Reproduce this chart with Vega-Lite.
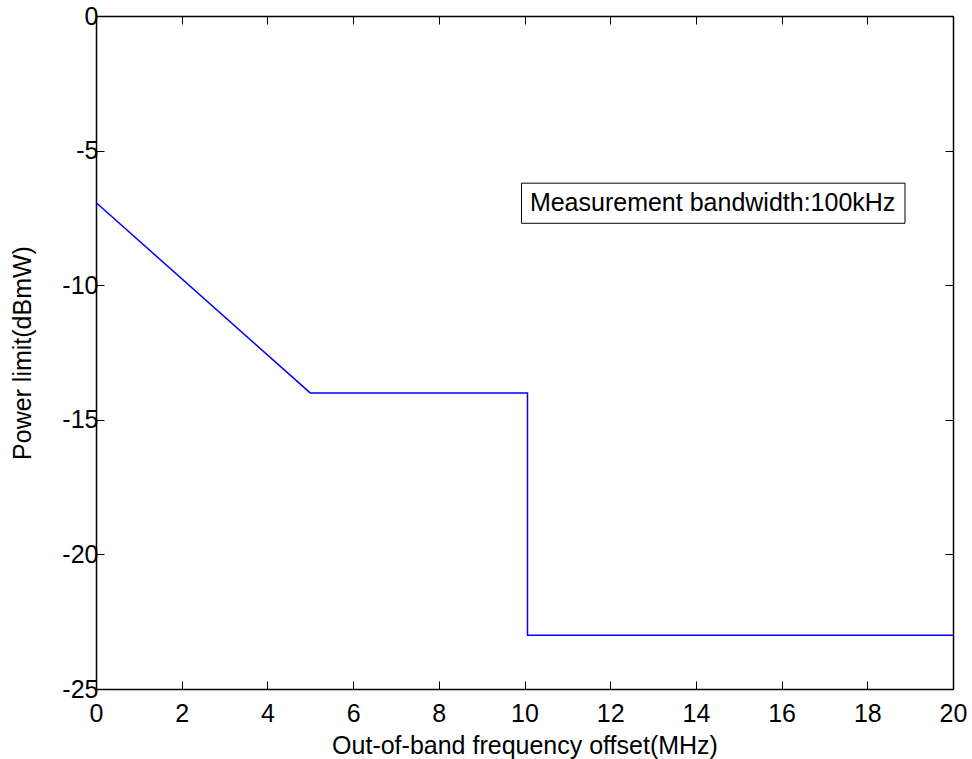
{
  "$schema": "https://vega.github.io/schema/vega-lite/v6.json",
  "width": 857,
  "height": 673,
  "autosize": "none",
  "padding": {"left": 96, "top": 16, "right": 19, "bottom": 70},
  "background": "white",
  "config": {
    "view": {"stroke": null},
    "font": "Liberation Sans",
    "axis": {
      "grid": false,
      "domainColor": "black",
      "domainWidth": 1.5,
      "tickColor": "black",
      "tickWidth": 1,
      "tickSize": -8,
      "labelFont": "Liberation Sans",
      "labelFontSize": 25,
      "labelColor": "black",
      "titleFont": "Liberation Sans",
      "titleFontSize": 25,
      "titleFontWeight": "normal",
      "titleColor": "black",
      "labelExpr": "toString(datum.value)"
    }
  },
  "datasets": {
    "curve": [
      {"f": 0, "p": -6.93},
      {"f": 5, "p": -14},
      {"f": 10.07, "p": -14},
      {"f": 10.07, "p": -23},
      {"f": 20, "p": -23}
    ],
    "note": [
      {"x1": 9.93, "x2": 18.88, "y1": -6.21, "y2": -7.7, "xc": 14.39, "yc": -6.96, "label": "Measurement bandwidth:100kHz"}
    ]
  },
  "layer": [
    {
      "data": {"name": "curve"},
      "mark": {"type": "line", "color": "#0000FF", "strokeWidth": 1.5},
      "encoding": {
        "x": {"field": "f", "type": "quantitative", "scale": {"domain": [0, 20], "nice": false, "zero": false},
              "axis": {"title": "Out-of-band frequency offset(MHz)", "values": [0,2,4,6,8,10,12,14,16,18,20], "labelPadding": 20, "titlePadding": 7, "labelFlush": false}},
        "y": {"field": "p", "type": "quantitative", "scale": {"domain": [-25, 0], "nice": false, "zero": false},
              "axis": {"title": "Power limit(dBmW)", "values": [-25,-20,-15,-10,-5,0], "labelPadding": 6, "titlePadding": 26, "labelFlush": false}},
        "order": {"field": "f", "type": "quantitative"}
      }
    },
    {
      "data": {"name": "curve"},
      "mark": {"type": "point", "opacity": 0},
      "encoding": {
        "x": {"field": "f", "type": "quantitative", "scale": {"domain": [0, 20], "nice": false, "zero": false},
              "axis": {"orient": "top", "labels": false, "title": null, "values": [0,2,4,6,8,10,12,14,16,18,20]}},
        "y": {"field": "p", "type": "quantitative", "scale": {"domain": [-25, 0], "nice": false, "zero": false},
              "axis": {"orient": "right", "labels": false, "title": null, "values": [-25,-20,-15,-10,-5,0]}}
      }
    },
    {
      "data": {"name": "note"},
      "mark": {"type": "rect", "fill": "white", "stroke": "black", "strokeWidth": 1},
      "encoding": {
        "x": {"field": "x1", "type": "quantitative", "axis": null},
        "x2": {"field": "x2"},
        "y": {"field": "y1", "type": "quantitative", "axis": null},
        "y2": {"field": "y2"}
      }
    },
    {
      "data": {"name": "note"},
      "mark": {"type": "text", "fontSize": 25, "font": "Liberation Sans", "color": "black", "align": "center", "baseline": "middle"},
      "encoding": {
        "x": {"field": "xc", "type": "quantitative", "axis": null},
        "y": {"field": "yc", "type": "quantitative", "axis": null},
        "text": {"field": "label"}
      }
    }
  ],
  "resolve": {"axis": {"x": "independent", "y": "independent"}}
}
